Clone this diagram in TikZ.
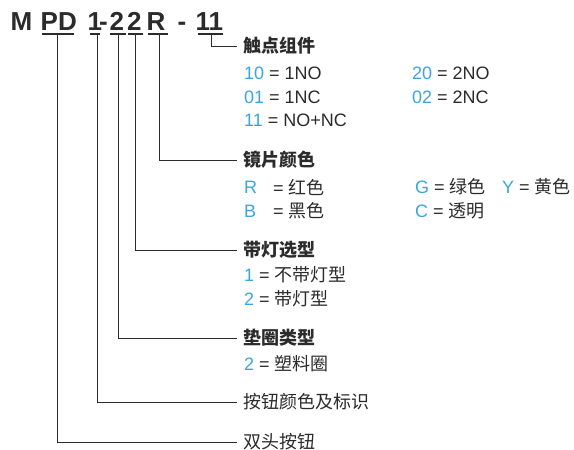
\documentclass[tikz,border=0pt]{standalone}
\usepackage{fontspec}
\setmainfont{Liberation Sans}
\newfontfamily\cjk{Noto Sans CJK SC}
\definecolor{cy}{HTML}{3AA6E0}
\definecolor{tx}{HTML}{2B2B2B}
\newcommand\bl[1]{\textcolor{cy}{#1}}
\begin{document}
\begin{tikzpicture}[x=1pt,y=-1pt,
  every node/.style={inner sep=0pt,text=tx},
  hdr/.style={anchor=base west,font=\fontsize{26}{28}\selectfont\bfseries},
  head/.style={anchor=west,font=\fontsize{18}{20}\selectfont\cjk\bfseries},
  item/.style={anchor=west,font=\fontsize{18}{20}\selectfont},
  ul/.style={draw=tx,line width=1.3pt},
  conn/.style={draw=tx,line width=1pt}]
\fill[white] (0,0) rectangle (574,450);
\useasboundingbox (0,0) rectangle (574,450);
% header
\node[hdr] (m) at (10.5,30.5) {M};
\node[hdr] (pd) at (40.5,30.5) {PD};
\node[hdr] (one) at (87.5,30.5) {1};
\node[hdr] (h1) at (99,30.5) {-};
\node[hdr] (twoa) at (109.5,30.5) {2};
\node[hdr] (twob) at (127,30.5) {2};
\node[hdr] (r) at (146.5,30.5) {R};
\node[hdr] (h2) at (177.5,30.5) {-};
\node[hdr] (el) at (195.5,30.5) {11};
% underlines
\draw[ul] (42,34) -- (74,34);
\draw[ul] (90,34) -- (100,34);
\draw[ul] (110,34) -- (126,34);
\draw[ul] (128,34) -- (143,34);
\draw[ul] (148,34) -- (168,34);
\draw[ul] (198,34) -- (223,34);
% connector origins
\coordinate (cel) at (211,34.6);
\coordinate (cr) at (159,34.6);
\coordinate (ctb) at (135.5,34.6);
\coordinate (cta) at (118,34.6);
\coordinate (cone) at (97.5,34.6);
\coordinate (cpd) at (57,34.6);
% headings
\node[head] (t1) at (243,46) {触点组件};
\node[head] (t2) at (243,160) {镜片颜色};
\node[head] (t3) at (243,250) {带灯选型};
\node[head] (t4) at (243,338) {垫圈类型};
\node[item] (t5) at (243,402) {\cjk 按钮颜色及标识};
\node[item] (t6) at (243,442) {\cjk 双头按钮};
% connectors
\draw[conn] (cel) |- ([xshift=-6pt]t1.west);
\draw[conn] (cr) |- ([xshift=-6pt]t2.west);
\draw[conn] (ctb) |- ([xshift=-6pt]t3.west);
\draw[conn] (cta) |- ([xshift=-6pt]t4.west);
\draw[conn] (cone) |- ([xshift=-6pt]t5.west);
\draw[conn] (cpd) |- ([xshift=-6pt]t6.west);
% contact items
\node[item] (a1) at (244,73) {\bl{10} = 1NO};
\node[item] (a2) at (244,97) {\bl{01} = 1NC};
\node[item] (a3) at (244,120) {\bl{11} = NO+NC};
\node[item] (a4) at (412,73) {\bl{20} = 2NO};
\node[item] (a5) at (412,97) {\bl{02} = 2NC};
% lens colour
\node[item] (b1) at (244,187) {\bl{R}};
\node[item] (b2) at (273,187) {= \cjk 红色};
\node[item] (b3) at (244,211) {\bl{B}};
\node[item] (b4) at (273,211) {= \cjk 黑色};
\node[item] (b5) at (415,187) {\bl{G} = {\cjk 绿色}};
\node[item] (b6) at (502,187) {\bl{Y} = {\cjk 黄色}};
\node[item] (b7) at (415,211) {\bl{C} = {\cjk 透明}};
% lamp
\node[item] (c1) at (244,275) {\bl{1} = {\cjk 不带灯型}};
\node[item] (c2) at (244,299) {\bl{2} = {\cjk 带灯型}};
% washer
\node[item] (d1) at (244,364) {\bl{2} = {\cjk 塑料圈}};
\end{tikzpicture}
\end{document}
